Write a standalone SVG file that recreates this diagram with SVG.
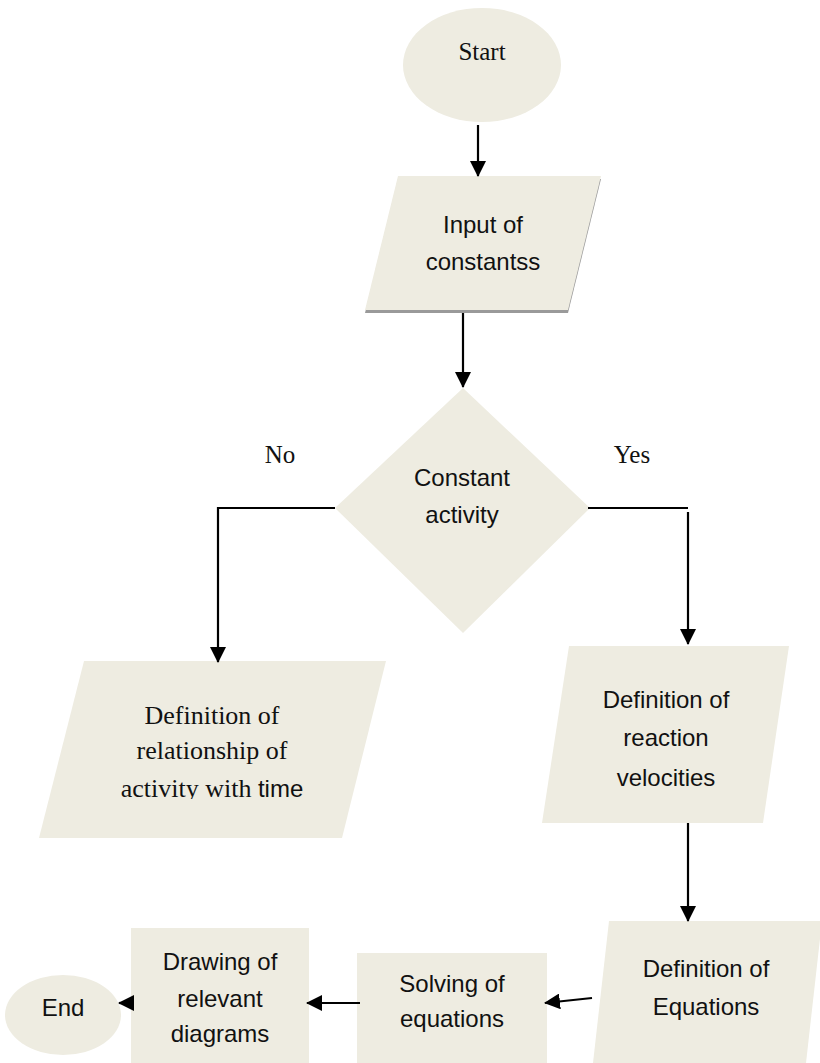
<svg xmlns="http://www.w3.org/2000/svg" width="820" height="1063" viewBox="0 0 820 1063">
<style>
.shape{fill:#EEECE1;stroke:none}
.serif{font-family:"Liberation Serif","Times New Roman",serif;fill:#111;text-anchor:middle}
.sans{font-family:"Liberation Sans",Arial,sans-serif;fill:#111;text-anchor:middle;font-size:24px}
.conn{fill:none;stroke:#000;stroke-width:2.2}
</style>
<defs>
<marker id="arrow" markerUnits="userSpaceOnUse" markerWidth="16" markerHeight="16" viewBox="0 0 16 16" refX="15" refY="8" orient="auto">
<path d="M0,0 L16,8 L0,16 z" fill="#000"/>
</marker>
<clipPath id="clipTxt"><rect x="0" y="650" width="400" height="149"/></clipPath>
</defs>
<rect width="820" height="1063" fill="#fff"/>

<g id="start">
<ellipse class="shape" cx="482" cy="65" rx="79" ry="57"/>
<text class="serif" x="482" y="60" font-size="25">Start</text>
</g>

<g id="input">
<polygon points="398,179 601,179 568,313 365,313" fill="#9a9a9a"/>
<polygon class="shape" points="398,176 601,176 568,310 365,310"/>
<text class="sans" x="483" y="233">Input of</text>
<text class="sans" x="483" y="270">constantss</text>
</g>

<g id="decision">
<polygon class="shape" points="463,388 590,508 463,633 335,508"/>
<text class="sans" x="462" y="486">Constant</text>
<text class="sans" x="462" y="523">activity</text>
</g>

<g id="labels">
<text class="serif" x="280" y="463" font-size="25">No</text>
<text class="serif" x="632" y="463" font-size="25">Yes</text>
</g>

<g id="relationship">
<polygon class="shape" points="84,661 386,661 342,838 39,838"/>
<text class="serif" x="212" y="724" font-size="26">Definition of</text>
<text class="serif" x="212" y="759" font-size="26">relationship of</text>
<text class="serif" x="212" y="797" font-size="26" clip-path="url(#clipTxt)">activity with <tspan font-family="'Liberation Sans',Arial,sans-serif" font-size="24">time</tspan></text>
</g>

<g id="velocities">
<polygon class="shape" points="569,646 789,646 763,823 542,823"/>
<text class="sans" x="666" y="708">Definition of</text>
<text class="sans" x="666" y="746">reaction</text>
<text class="sans" x="666" y="786" font-size="27">velocities</text>
</g>

<g id="equations">
<polygon class="shape" points="609,921 822,921 806,1063 593,1063"/>
<text class="sans" x="706" y="977">Definition of</text>
<text class="sans" x="706" y="1015">Equations</text>
</g>

<g id="solving">
<rect class="shape" x="357" y="953" width="190" height="110"/>
<text class="sans" x="452" y="992">Solving of</text>
<text class="sans" x="452" y="1027">equations</text>
</g>

<g id="drawing">
<rect class="shape" x="131" y="928" width="178" height="135"/>
<text class="sans" x="220" y="970">Drawing of</text>
<text class="sans" x="220" y="1007">relevant</text>
<text class="sans" x="220" y="1042">diagrams</text>
</g>

<g id="end">
<ellipse class="shape" cx="63" cy="1015" rx="58" ry="40"/>
<text class="sans" x="63" y="1016">End</text>
</g>

<g id="connectors">
<line class="conn" x1="478" y1="125" x2="478" y2="176" marker-end="url(#arrow)"/>
<line class="conn" x1="463" y1="313" x2="463" y2="387" marker-end="url(#arrow)"/>
<polyline class="conn" points="335,508 218,508 218,662" marker-end="url(#arrow)"/>
<line class="conn" x1="588" y1="508" x2="688" y2="508"/>
<line class="conn" x1="688" y1="512" x2="688" y2="644" marker-end="url(#arrow)"/>
<line class="conn" x1="688" y1="823" x2="688" y2="921" marker-end="url(#arrow)"/>
<line class="conn" x1="592" y1="998" x2="545" y2="1003" marker-end="url(#arrow)"/>
<line class="conn" x1="360" y1="1003" x2="307" y2="1003" marker-end="url(#arrow)"/>
<line class="conn" x1="132" y1="1003" x2="119" y2="1003" marker-end="url(#arrow)"/>
</g>
</svg>
